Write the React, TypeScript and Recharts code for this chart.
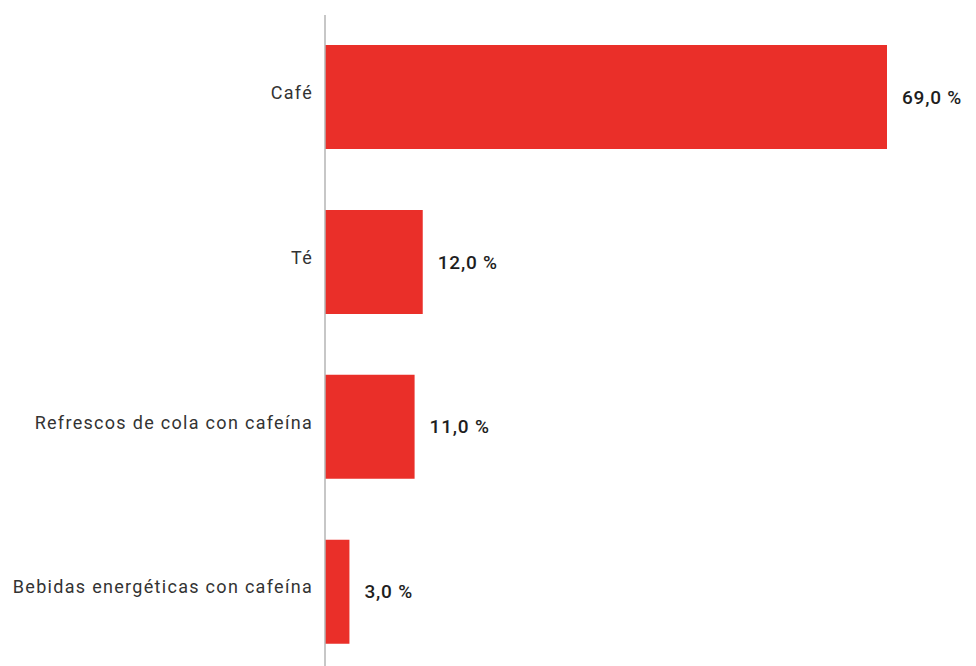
import { BarChart, Bar, XAxis, YAxis, LabelList } from "recharts";

const categories = [
  "Café",
  "Té",
  "Refrescos de cola con cafeína",
  "Bebidas energéticas con cafeína",
];
const shares = [69.0, 12.0, 11.0, 3.0];

const data = categories.map((name, i) => ({ name, value: shares[i] }));

const fmt = (v: number) => v.toFixed(1).replace(".", ",") + " %";

const App = () => {
  return (
    <div style={{ margin: "-8px 0 0 -8px" }}>
      <BarChart
        width={976}
        height={690}
        data={data}
        layout="vertical"
        margin={{ top: 15, right: 89, bottom: 15.5, left: 0 }}
      >
        <XAxis type="number" hide domain={[0, 69]} />
        <YAxis
          type="category"
          dataKey="name"
          width={325}
          tickLine={false}
          tickSize={0}
          tickMargin={12}
          axisLine={{ stroke: "#b5b5b5", strokeWidth: 1.5 }}
          tick={{
            fill: "#333333",
            fontSize: 18,
            fontFamily: "Roboto",
            letterSpacing: 1.3,
            dy: -5,
          }}
        />
        <Bar dataKey="value" fill="#ea2f29" barSize={104} isAnimationActive={false}>
          <LabelList
            dataKey="value"
            position="right"
            offset={15}
            formatter={(v: any) => fmt(Number(v))}
            style={{
              fill: "#1e1e1e",
              fontSize: 19,
              fontFamily: "Roboto",
              fontWeight: 500,
              letterSpacing: 0.8,
            }}
          />
        </Bar>
      </BarChart>
    </div>
  );
};

export default App;
